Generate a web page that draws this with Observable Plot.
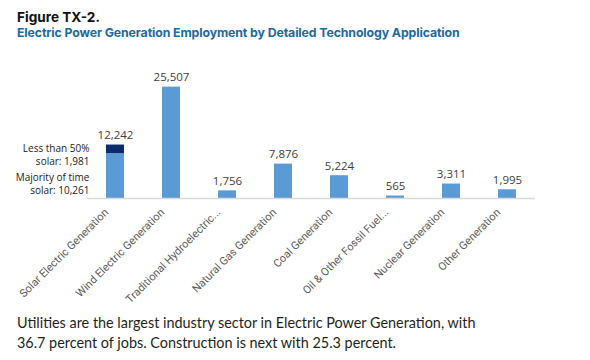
<!DOCTYPE html>
<html>
<head>
<meta charset="utf-8">
<script src="https://cdn.jsdelivr.net/npm/d3@7"></script>
<script src="https://cdn.jsdelivr.net/npm/@observablehq/plot@0.6"></script>
<style>
  html, body { margin: 0; padding: 0; background: #fff; }
  body { width: 590px; height: 360px; position: relative; overflow: hidden; font-family: "Inter", "Noto Sans", sans-serif; }
  #title { position: absolute; left: 17px; top: 9px; font-size: 13.6px; font-weight: 700; color: #111; letter-spacing: 0px; }
  #subtitle { position: absolute; left: 17px; top: 25px; font-size: 12.3px; font-weight: 700; color: #1a6aa3; letter-spacing: -0.1px; }
  #chart { position: absolute; left: 0; top: 45px; }
  #caption { position: absolute; left: 17px; top: 313px; font-size: 14.4px; line-height: 20px; color: #231f20; font-family: "Lato", "Noto Sans", sans-serif; }
</style>
</head>
<body>
<div id="title">Figure TX-2.</div>
<div id="subtitle">Electric Power Generation Employment by Detailed Technology Application</div>
<div id="chart"></div>
<div id="caption">Utilities are the largest industry sector in Electric Power Generation, with<br>36.7 percent of jobs. Construction is next with 25.3 percent.</div>
<script>
const categories = [
  "Solar Electric Generation",
  "Wind Electric Generation",
  "Traditional Hydroelectric...",
  "Natural Gas Generation",
  "Coal Generation",
  "Oil & Other Fossil Fuel...",
  "Nuclear Generation",
  "Other Generation"
];
const totals = [12242, 25507, 1756, 7876, 5224, 565, 3311, 1995];
const solarMajority = 10261;
const solarLessThanHalf = 1981;
const solarNotes = ["Less than 50%\nsolar: 1,981", "Majority of time\nsolar: 10,261"];

const light = "#5b9bd5";
const dark = "#0b2c6c";

// stacked segments: solar split into two parts, others single
const segments = categories.map((c, i) => ({
  cat: c,
  part: "main",
  value: i === 0 ? solarMajority : totals[i]
}));
segments.push({cat: categories[0], part: "less", value: solarLessThanHalf});

const labels = categories.map((c, i) => ({cat: c, total: totals[i]}));

const noteLess = [{cat: categories[0], y: solarMajority + solarLessThanHalf / 2, text: solarNotes[0]}];
const noteMajority = [{cat: categories[0], y: solarMajority / 2, text: solarNotes[1]}];

const fmt = d3.format(",");
const noteStyle = {x: "cat", y: "y", text: "text", dx: -26, textAnchor: "end", fontSize: 10, lineHeight: 1.3, fill: "#222"};

const chart = Plot.plot({
  width: 590,
  height: 260,
  marginLeft: 87,
  marginRight: 55,
  marginTop: 22,
  marginBottom: 107,
  style: {fontFamily: "'Open Sans', 'Noto Sans', sans-serif", background: "#fff", overflow: "visible"},
  x: {
    domain: categories,
    paddingInner: 0.68,
    paddingOuter: 0.34,
    label: null,
    axis: null
  },
  y: {domain: [0, 30000], axis: null},
  color: {domain: ["main", "less"], range: [light, dark]},
  marks: [
    Plot.barY(segments, {x: "cat", y: "value", fill: "part"}),
    Plot.ruleY([0], {stroke: "#d9d9d9", strokeWidth: 1.5}),
    Plot.text(labels, {x: "cat", y: "total", text: d => fmt(d.total), dy: -6, lineAnchor: "bottom", fontSize: 11.5, fill: "#404040"}),
    Plot.text(noteLess, {...noteStyle, dy: 5}),
    Plot.text(noteMajority, {...noteStyle, dy: 7}),
    Plot.axisX({tickSize: 0, tickRotate: -45, tickPadding: 8, dx: -9, dy: 4, fontSize: 11, fontFamily: "Roboto, sans-serif", fill: "#595959", label: null})
  ]
});
document.getElementById("chart").appendChild(chart);
</script>
</body>
</html>
